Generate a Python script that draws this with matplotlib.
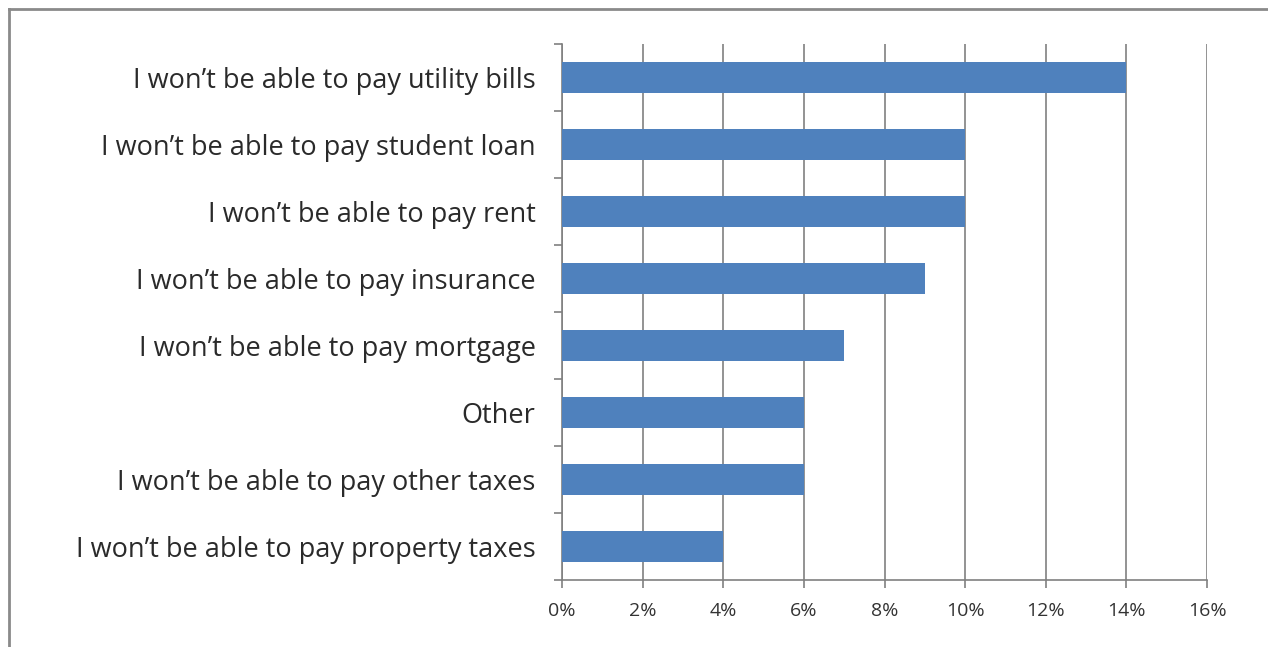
import matplotlib
matplotlib.use("Agg")
import matplotlib.pyplot as plt
from matplotlib.lines import Line2D
import numpy as np

categories = [
    "I won\u2019t be able to pay utility bills",
    "I won\u2019t be able to pay student loan",
    "I won\u2019t be able to pay rent",
    "I won\u2019t be able to pay insurance",
    "I won\u2019t be able to pay mortgage",
    "Other",
    "I won\u2019t be able to pay other taxes",
    "I won\u2019t be able to pay property taxes",
]
values = [14, 10, 10, 9, 7, 6, 6, 4]
xticks = [0, 2, 4, 6, 8, 10, 12, 14, 16]
xticklabels = ["0%", "2%", "4%", "6%", "8%", "10%", "12%", "14%", "16%"]

plt.rcParams['font.family'] = ['Open Sans', 'DejaVu Sans']

fig = plt.figure(figsize=(12.68, 6.47), dpi=100)
ax = fig.add_axes([562/1268, 1 - 580/647, (1207-562)/1268, (580-44)/647])

n = len(categories)
y = np.arange(n)[::-1]
ax.barh(y, values, height=0.45, color="#4F81BD", zorder=3)

ax.set_xlim(0, 16)
ax.set_ylim(-0.5, n - 0.5)
ax.set_xticks(xticks)
ax.set_xticklabels(xticklabels, fontsize=14, color="#333333")
ax.set_yticks(y)
ax.set_yticklabels(categories, fontsize=19.5, color="#2a2a2a")
ax.tick_params(axis='y', length=0, pad=19)
ax.tick_params(axis='x', length=6, width=1.2, color="#808080", pad=10, direction='out')

# y-axis boundary ticks
ax.set_yticks(np.arange(-0.5, n, 1.0), minor=True)
ax.tick_params(axis='y', which='minor', length=6, width=1.2, color="#808080", direction='out')

ax.grid(axis='x', color="#808080", linewidth=1.2, zorder=0)
for s in ['top', 'right']:
    ax.spines[s].set_visible(False)
for s in ['left', 'bottom']:
    ax.spines[s].set_color("#808080")
    ax.spines[s].set_linewidth(1.2)

# outer frame (top and left visible)
fig.add_artist(Line2D([9/1268, 9/1268], [0, 1 - 9/647], transform=fig.transFigure, color="#8a8a8a", linewidth=2))
fig.add_artist(Line2D([9/1268, 1], [1 - 9/647, 1 - 9/647], transform=fig.transFigure, color="#8a8a8a", linewidth=2))

fig.savefig("out.png", dpi=100)
